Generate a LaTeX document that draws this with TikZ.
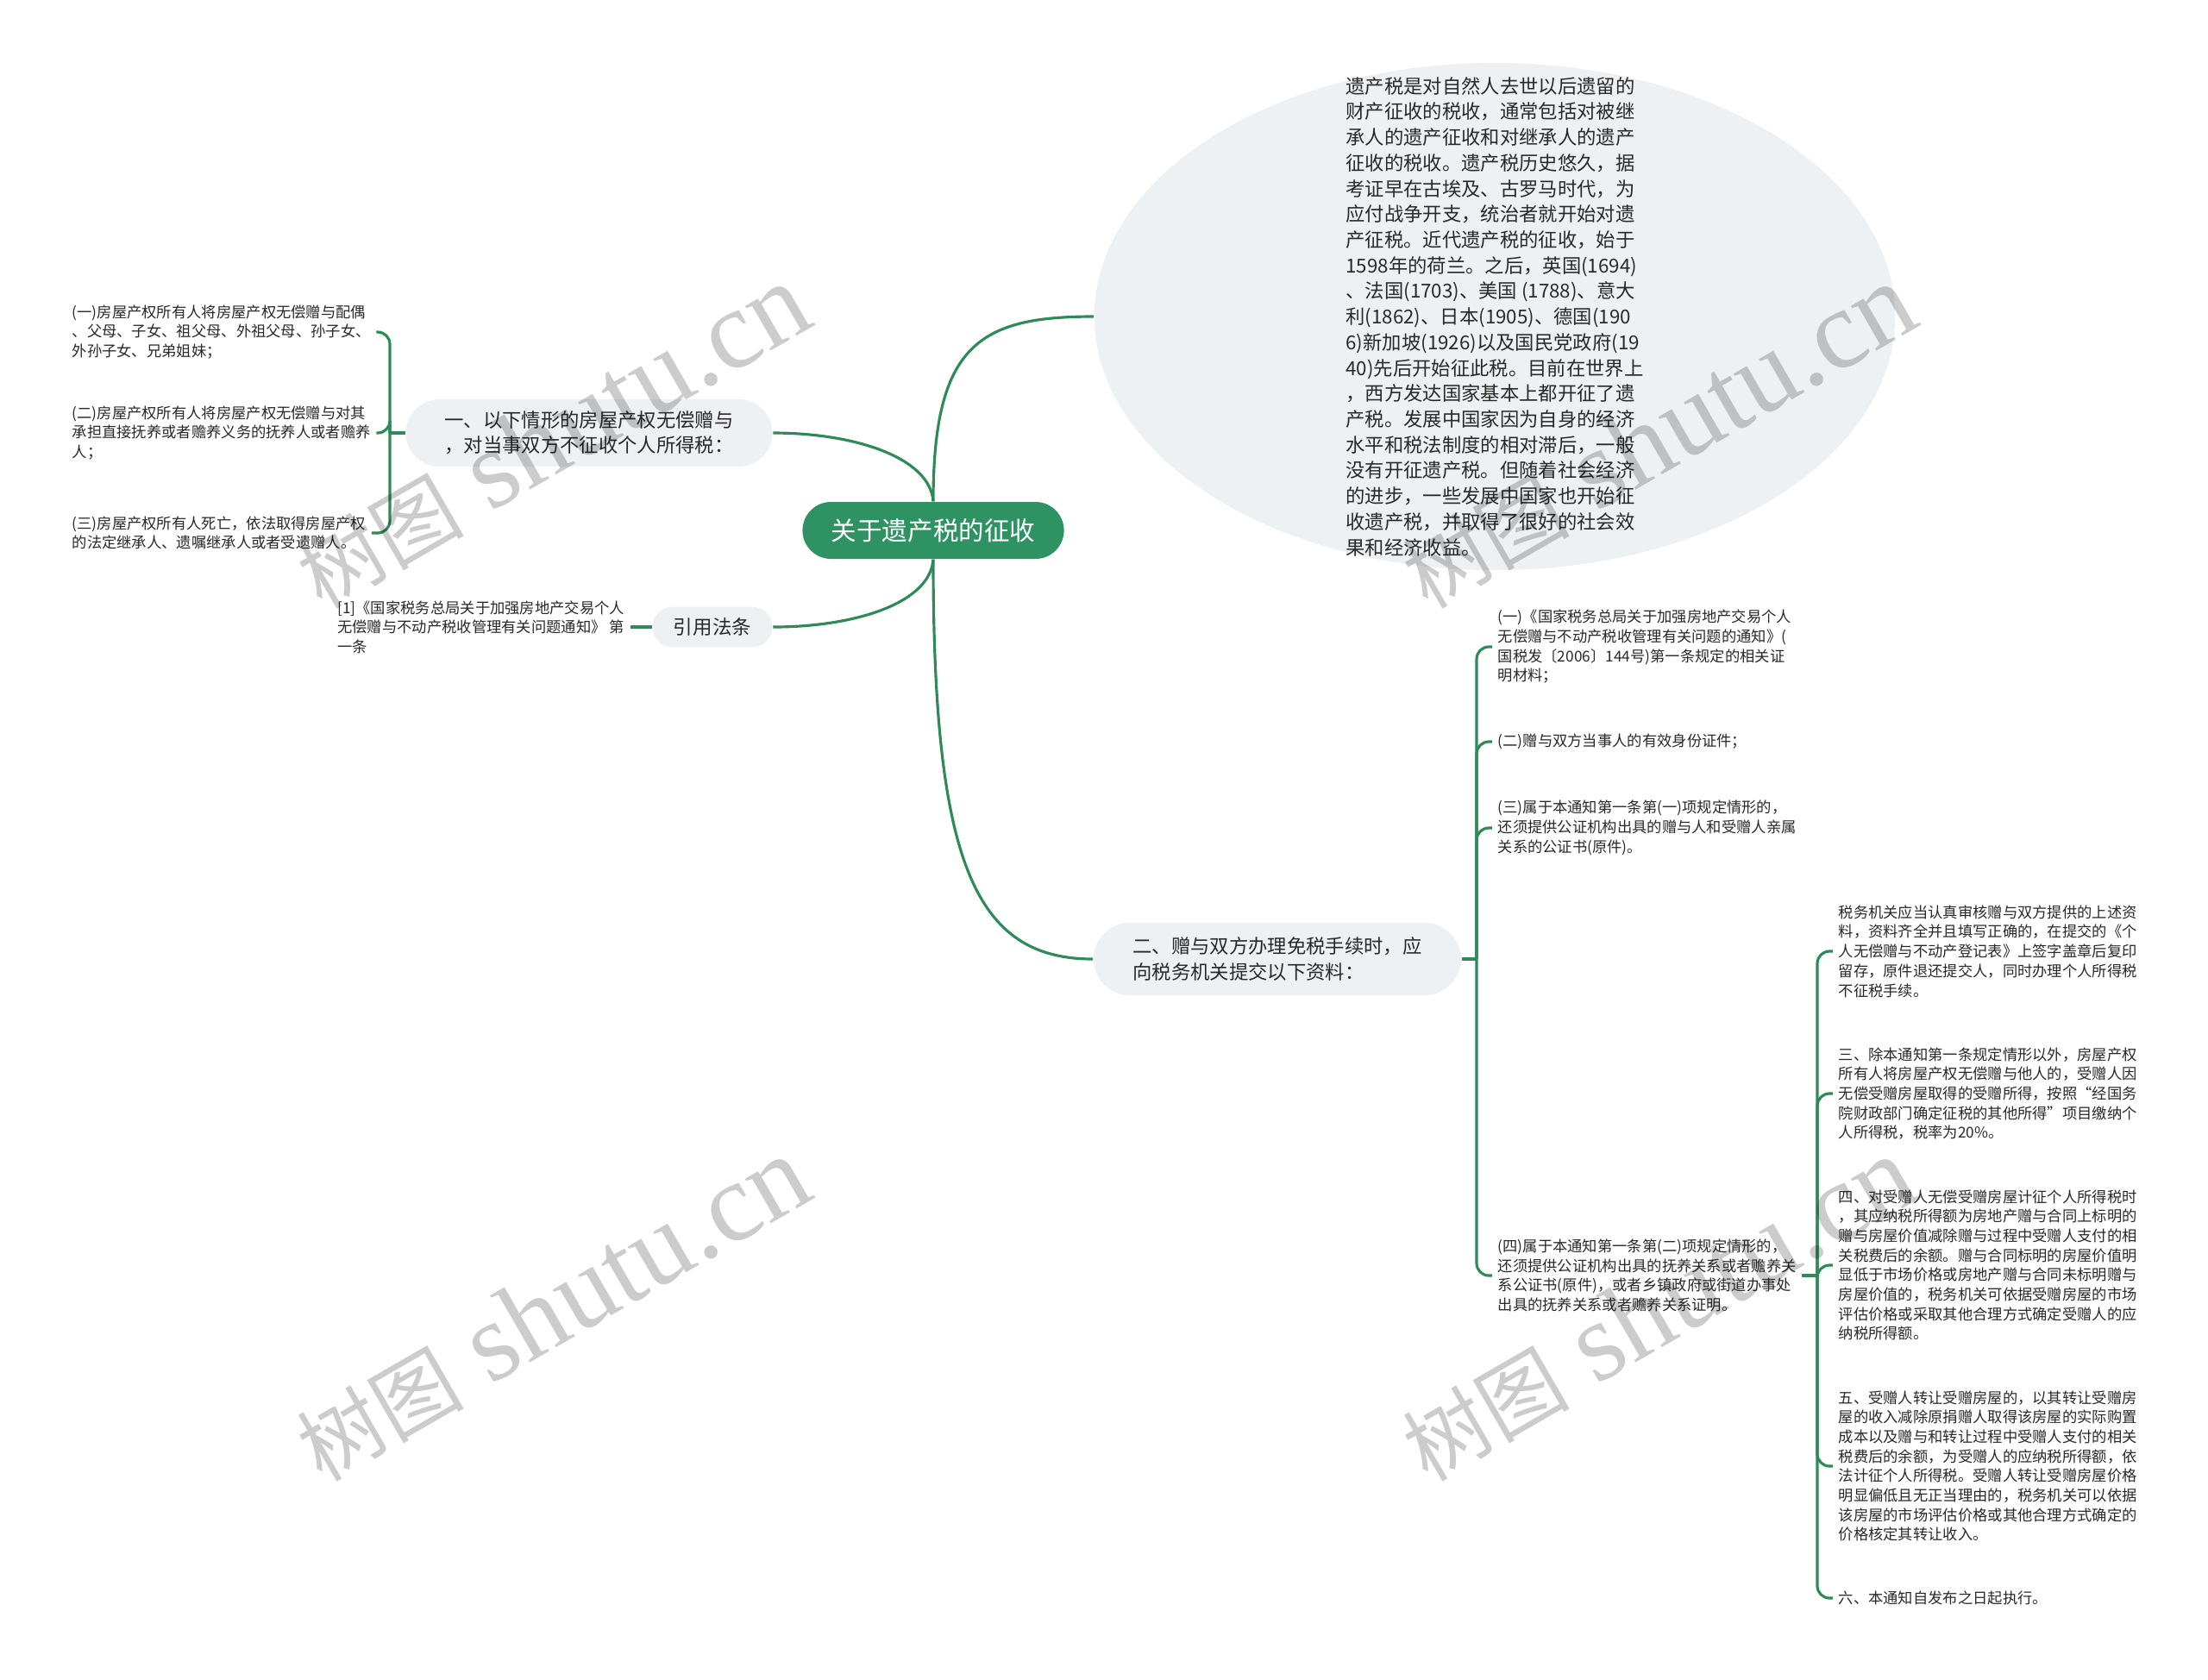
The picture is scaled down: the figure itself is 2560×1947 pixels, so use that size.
\documentclass[tikz,border=0pt]{standalone}
\usepackage{fontspec}
\setmainfont{Noto Sans CJK SC}
\newfontfamily\stampfont{Liberation Serif}
\usetikzlibrary{shapes.geometric,positioning}
\definecolor{rootgreen}{RGB}{46,146,98}
\definecolor{linkgreen}{RGB}{46,139,87}
\definecolor{bubblegray}{RGB}{238,241,243}
\definecolor{inkgray}{RGB}{40,40,40}
\tikzset{
  topic/.style={
    rectangle,
    fill=rootgreen,
    text=white,
    rounded corners=0.33cm,
    minimum width=3.03cm,
    minimum height=0.66cm,
    inner sep=0pt,
    font=\fontsize{8.4pt}{10pt}\selectfont
  },
  branch/.style={
    rectangle,
    fill=bubblegray,
    text=inkgray,
    rounded corners=0.39cm,
    minimum width=4.25cm,
    minimum height=0.78cm,
    inner sep=0pt,
    align=left,
    font=\fontsize{6.35pt}{8.3pt}\selectfont
  },
  bubble/.style={
    ellipse,
    fill=bubblegray,
    minimum width=9.28cm,
    minimum height=5.88cm,
    inner sep=0pt
  },
  leaf/.style={
    text=inkgray,
    align=left,
    anchor=west,
    inner xsep=0.06cm,
    inner ysep=0pt,
    font=\fontsize{4.92pt}{6.45pt}\selectfont
  },
  link/.style={
    draw=linkgreen,
    line width=0.9pt
  },
  fork/.style={
    link,
    rounded corners=4pt
  },
  stamp/.style={
    rotate=30,
    text=black,
    text opacity=0.2,
    inner sep=0pt
  }
}

\begin{document}
\begin{tikzpicture}[x=0.01cm, y=-0.01cm]
  \useasboundingbox (0,0) rectangle (2560,1947);

  % Root and main branches
  \node[topic] (root) at (1082,615) {关于遗产税的征收};
  \node[bubble] (desc) at (1733,367) {};
  \node[text=inkgray, align=left, inner sep=0pt,
        font=\fontsize{6.35pt}{8.45pt}\selectfont] (desctext) at (desc.center) {遗产税是对自然人去世以后遗留的\\
    财产征收的税收，通常包括对被继\\
    承人的遗产征收和对继承人的遗产\\
    征收的税收。遗产税历史悠久，据\\
    考证早在古埃及、古罗马时代，为\\
    应付战争开支，统治者就开始对遗\\
    产征税。近代遗产税的征收，始于\\
    1598年的荷兰。之后，英国(1694)\\
    、法国(1703)、美国 (1788)、意大\\
    利(1862)、日本(1905)、德国(190\\
    6)新加坡(1926)以及国民党政府(19\\
    40)先后开始征此税。目前在世界上\\
    ，西方发达国家基本上都开征了遗\\
    产税。发展中国家因为自身的经济\\
    水平和税法制度的相对滞后，一般\\
    没有开征遗产税。但随着社会经济\\
    的进步，一些发展中国家也开始征\\
    收遗产税，并取得了很好的社会效\\
    果和经济收益。};
  \node[branch] (b1) at (683,502) {一、以下情形的房屋产权无偿赠与\\，对当事双方不征收个人所得税：};
  \node[branch, minimum width=1.39cm, minimum height=0.47cm, rounded corners=0.235cm,
        font=\fontsize{6.4pt}{8pt}\selectfont] (cite) at (826,727) {引用法条};
  \node[branch, minimum width=4.26cm, minimum height=0.84cm, rounded corners=0.42cm] (b2) at (1481,1112) {二、赠与双方办理免税手续时，应\\向税务机关提交以下资料：};

  % Root links
  \draw[link] (root.north) .. controls (1082,400) and (1135,367) .. (desc.west);
  \draw[link] (root.north) .. controls (1078,530) and (990,502) .. (b1.east);
  \draw[link] (root.south) .. controls (1078,700) and (990,727) .. (cite.east);
  \draw[link] (root.south) .. controls (1082,1000) and (1130,1112) .. (b2.west);

  % Untaxed cases
  \node[leaf] (c1) at (77,385) {(一)房屋产权所有人将房屋产权无偿赠与配偶\\
    、父母、子女、祖父母、外祖父母、孙子女、\\
    外孙子女、兄弟姐妹；};
  \node[leaf] (c2) at (77,502) {(二)房屋产权所有人将房屋产权无偿赠与对其\\
    承担直接抚养或者赡养义务的抚养人或者赡养\\
    人；};
  \node[leaf] (c3) at (77,618) {(三)房屋产权所有人死亡，依法取得房屋产权\\
    的法定继承人、遗嘱继承人或者受遗赠人。};
  \coordinate (t1) at (452,502);
  \draw[link] (b1.west) -- (t1);
  \draw[fork] (t1) |- (c1.east);
  \draw[fork] (t1) |- (c2.east);
  \draw[fork] (t1) |- (c3.east);

  % Cited rule
  \node[leaf, left=0.25cm of cite] (law) {[1]《国家税务总局关于加强房地产交易个人\\
    无偿赠与不动产税收管理有关问题通知》 第\\
    一条};
  \draw[link] (cite.west) -- (law.east);

  % Documents to hand in
  \node[leaf] (k1) at (1730,750) {(一)《国家税务总局关于加强房地产交易个人\\
    无偿赠与不动产税收管理有关问题的通知》(\\
    国税发〔2006〕144号)第一条规定的相关证\\
    明材料；};
  \node[leaf] (k2) at (1730,860) {(二)赠与双方当事人的有效身份证件；};
  \node[leaf] (k3) at (1730,960) {(三)属于本通知第一条第(一)项规定情形的，\\
    还须提供公证机构出具的赠与人和受赠人亲属\\
    关系的公证书(原件)。};
  \node[leaf] (k4) at (1730,1479) {(四)属于本通知第一条第(二)项规定情形的，\\
    还须提供公证机构出具的抚养关系或者赡养关\\
    系公证书(原件)，或者乡镇政府或街道办事处\\
    出具的抚养关系或者赡养关系证明。};
  \coordinate (t2) at (1712,1112);
  \draw[link] (b2.east) -- (t2);
  \draw[fork] (t2) |- (k1.west);
  \draw[fork] (t2) |- (k2.west);
  \draw[fork] (t2) |- (k3.west);
  \draw[fork] (t2) |- (k4.west);

  % Rules after the fourth item
  \node[leaf] (m1) at (2125,1103) {税务机关应当认真审核赠与双方提供的上述资\\
    料，资料齐全并且填写正确的，在提交的《个\\
    人无偿赠与不动产登记表》上签字盖章后复印\\
    留存，原件退还提交人，同时办理个人所得税\\
    不征税手续。};
  \node[leaf] (m2) at (2125,1268) {三、除本通知第一条规定情形以外，房屋产权\\
    所有人将房屋产权无偿赠与他人的，受赠人因\\
    无偿受赠房屋取得的受赠所得，按照“经国务\\
    院财政部门确定征税的其他所得”项目缴纳个\\
    人所得税，税率为20\%。};
  \node[leaf] (m3) at (2125,1467) {四、对受赠人无偿受赠房屋计征个人所得税时\\
    ，其应纳税所得额为房地产赠与合同上标明的\\
    赠与房屋价值减除赠与过程中受赠人支付的相\\
    关税费后的余额。赠与合同标明的房屋价值明\\
    显低于市场价格或房地产赠与合同未标明赠与\\
    房屋价值的，税务机关可依据受赠房屋的市场\\
    评估价格或采取其他合理方式确定受赠人的应\\
    纳税所得额。};
  \node[leaf] (m4) at (2125,1700) {五、受赠人转让受赠房屋的，以其转让受赠房\\
    屋的收入减除原捐赠人取得该房屋的实际购置\\
    成本以及赠与和转让过程中受赠人支付的相关\\
    税费后的余额，为受赠人的应纳税所得额，依\\
    法计征个人所得税。受赠人转让受赠房屋价格\\
    明显偏低且无正当理由的，税务机关可以依据\\
    该房屋的市场评估价格或其他合理方式确定的\\
    价格核定其转让收入。};
  \node[leaf] (m5) at (2125,1853) {六、本通知自发布之日起执行。};
  \coordinate (t3) at (2107,1479);
  \draw[link] (k4.east) -- (t3);
  \draw[fork] (t3) |- (m1.west);
  \draw[fork] (t3) |- (m2.west);
  \draw[fork] (t3) |- (m3.west);
  \draw[fork] (t3) |- (m4.west);
  \draw[fork] (t3) |- (m5.west);

  % Watermarks
  \node[stamp] (wm1) at (640,506) {{\fontsize{27.5pt}{27.5pt}\selectfont 树图}\hspace{0.32cm}{\stampfont\fontsize{37pt}{37pt}\selectfont shutu.cn}};
  \node[stamp] (wm2) at (640,1518) {{\fontsize{27.5pt}{27.5pt}\selectfont 树图}\hspace{0.32cm}{\stampfont\fontsize{37pt}{37pt}\selectfont shutu.cn}};
  \node[stamp] (wm3) at (1922,506) {{\fontsize{27.5pt}{27.5pt}\selectfont 树图}\hspace{0.32cm}{\stampfont\fontsize{37pt}{37pt}\selectfont shutu.cn}};
  \node[stamp] (wm4) at (1922,1518) {{\fontsize{27.5pt}{27.5pt}\selectfont 树图}\hspace{0.32cm}{\stampfont\fontsize{37pt}{37pt}\selectfont shutu.cn}};

\end{tikzpicture}
\end{document}
